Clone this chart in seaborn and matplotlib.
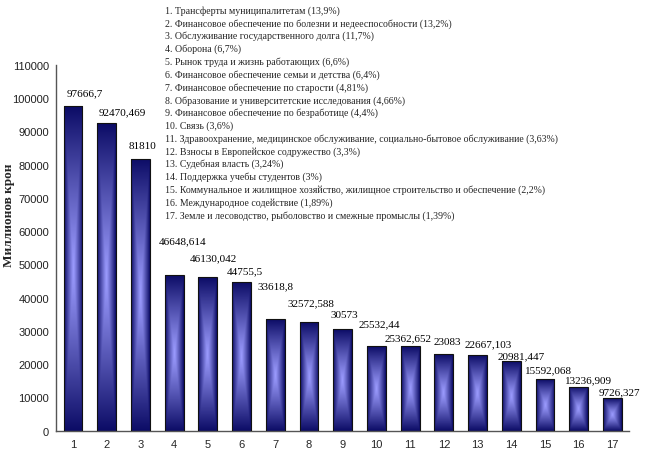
import numpy as np
import pandas as pd
import matplotlib
matplotlib.use("Agg")
import matplotlib.pyplot as plt
import seaborn as sns
from matplotlib.colors import to_rgb

# budget items, million crowns
categories = [str(i) for i in range(1, 18)]
values = [97666.7, 92470.469, 81810, 46648.614, 46130.042, 44755.5, 33618.8,
          32572.588, 30573, 25532.44, 25362.652, 23083, 22667.103, 20981.447,
          15592.068, 13236.909, 9726.327]
items = [
    "Трансферты муниципалитетам (13,9%)",
    "Финансовое обеспечение по болезни и недееспособности (13,2%)",
    "Обслуживание государственного долга (11,7%)",
    "Оборона (6,7%)",
    "Рынок труда и жизнь работающих (6,6%)",
    "Финансовое обеспечение семьи и детства (6,4%)",
    "Финансовое обеспечение по старости (4,81%)",
    "Образование и университетские исследования (4,66%)",
    "Финансовое обеспечение по безработице (4,4%)",
    "Связь (3,6%)",
    "Здравоохранение, медицинское обслуживание, социально-бытовое обслуживание (3,63%)",
    "Взносы в Европейское содружество (3,3%)",
    "Судебная власть (3,24%)",
    "Поддержка учебы студентов (3%)",
    "Коммунальное и жилищное хозяйство, жилищное строительство и обеспечение (2,2%)",
    "Международное содействие (1,89%)",
    "Земле и лесоводство, рыболовство и смежные промыслы (1,39%)",
]
# where the value labels sit (they were dragged by hand in the original)
label_y = [101500, 95800, 85600, 57000, 51900, 48000, 43500, 38400, 34800,
           32100, 27900, 26700, 26100, 22500, 18300, 15300, 11700]
label_dx = [0.35, 0.45, 0.05, 0.25, 0.15, 0.1, 0.0, 0.05, 0.05, 0.1, -0.05,
            0.1, 0.3, 0.3, 0.1, 0.3, 0.2]

df = pd.DataFrame({"cat": categories, "val": values})

sns.set_style("white")
plt.rcParams["font.family"] = ["Liberation Sans", "DejaVu Sans"]

fig = plt.figure(figsize=(6.6, 4.56), dpi=100)
ax = fig.add_axes([0.085, 0.0533, 0.8685, 0.8026])

sns.barplot(data=df, x="cat", y="val", color="#2020a0", width=0.56,
            edgecolor="#111111", linewidth=0.8, ax=ax)

# centre-out gradient fill like the Excel bars
dark = np.array(to_rgb("#0c0c66"))
light = np.array(to_rgb("#9c9cff"))
u = np.linspace(-1, 1, 60)
uu, vv = np.meshgrid(u, np.linspace(-1, 1, 200))
t = np.maximum(np.abs(uu), np.abs(vv)) ** 1.1
grad = light + (dark - light) * t[..., None]
for p in ax.patches:
    x0, w, h = p.get_x(), p.get_width(), p.get_height()
    im = ax.imshow(grad, extent=(x0, x0 + w, 0, h), aspect="auto",
                   zorder=1, interpolation="bilinear")
    im.set_clip_path(p)
    p.set_facecolor("none")
    p.set_zorder(3)

for i, v in enumerate(values):
    txt = str(int(v)) if v == int(v) else str(v)
    ax.text(i + label_dx[i], label_y[i], txt.replace(".", ","),
            ha="center", va="center", fontsize=8,
            family="Liberation Serif", color="black")

ax.set_xlim(-0.5, 16.5)
ax.set_ylim(0, 110000)
ax.set_aspect("auto")
ax.set_yticks(np.arange(0, 110001, 10000))
ax.set_yticklabels([str(v) for v in range(0, 110001, 10000)], fontsize=8)
ax.set_xticks(np.arange(-0.5, 17, 1))
ax.set_xticklabels([])
ax.set_xticks(np.arange(17), minor=True)
ax.set_xticklabels(categories, minor=True, fontsize=8)
ax.tick_params(axis="x", which="major", length=3, direction="out", color="#444444")
ax.tick_params(axis="x", which="minor", length=0, pad=6)
ax.tick_params(axis="y", length=3, direction="out", color="#444444", pad=2)
ax.tick_params(axis="both", labelcolor="#222222")
sns.despine(ax=ax)
for s in ["left", "bottom"]:
    ax.spines[s].set_color("#555555")
    ax.spines[s].set_linewidth(1.0)
ax.set_xlabel("")
ax.set_ylabel("Миллионов крон", family="Liberation Serif", fontweight="bold",
              fontsize=9.5)
ax.yaxis.set_label_coords(-0.072, 0.592)

legend_text = "\n".join(f"{i}. {s}" for i, s in enumerate(items, 1))
fig.text(0.25, 1 - 6 / 456, legend_text, ha="left", va="top", fontsize=7.1,
         family="Liberation Serif", linespacing=1.41)

fig.savefig("out.png", dpi=100)
